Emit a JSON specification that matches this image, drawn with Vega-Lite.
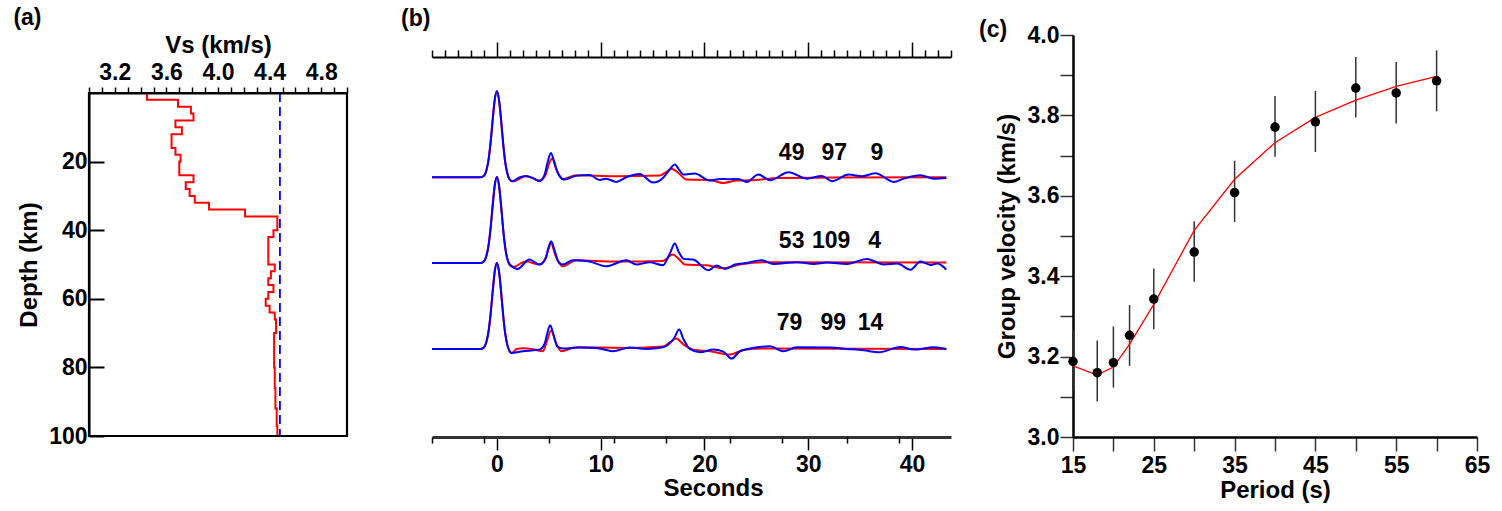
{
  "$schema": "https://vega.github.io/schema/vega-lite/v6.json",
  "background": "white",
  "padding": {"left": 13, "top": 6, "right": 10, "bottom": 10},
  "bounds": "flush",
  "spacing": 85,
  "datasets": {
    "profile": [
      {"depth": 0, "vs": 3.45}, {"depth": 2, "vs": 3.69}, {"depth": 4, "vs": 3.79}, {"depth": 6, "vs": 3.81},
      {"depth": 8, "vs": 3.67}, {"depth": 10, "vs": 3.72}, {"depth": 12, "vs": 3.64}, {"depth": 16, "vs": 3.67},
      {"depth": 18, "vs": 3.71}, {"depth": 20, "vs": 3.70}, {"depth": 24, "vs": 3.81}, {"depth": 26, "vs": 3.75},
      {"depth": 28, "vs": 3.78}, {"depth": 30, "vs": 3.82}, {"depth": 32, "vs": 3.93}, {"depth": 34, "vs": 4.21},
      {"depth": 36, "vs": 4.46}, {"depth": 40, "vs": 4.43}, {"depth": 42, "vs": 4.39}, {"depth": 50, "vs": 4.44},
      {"depth": 52, "vs": 4.41}, {"depth": 54, "vs": 4.39}, {"depth": 56, "vs": 4.43}, {"depth": 58, "vs": 4.39},
      {"depth": 60, "vs": 4.37}, {"depth": 62, "vs": 4.40}, {"depth": 64, "vs": 4.44}, {"depth": 66, "vs": 4.45},
      {"depth": 70, "vs": 4.435}, {"depth": 80, "vs": 4.44}, {"depth": 86, "vs": 4.445}, {"depth": 92, "vs": 4.455},
      {"depth": 97, "vs": 4.46}, {"depth": 100, "vs": 4.46}
    ],
    "reference": [{"vs": 4.48, "top": 0, "bottom": 100}],
    "wave": [
      {"trace": 1, "kind": "model", "t": -6.25, "amp": 0}, {"trace": 1, "kind": "model", "t": -1.6, "amp": 0},
      {"trace": 1, "kind": "model", "t": -1.3, "amp": 0.012}, {"trace": 1, "kind": "model", "t": -1.0, "amp": 0.085},
      {"trace": 1, "kind": "model", "t": -0.8, "amp": 0.206}, {"trace": 1, "kind": "model", "t": -0.6, "amp": 0.411},
      {"trace": 1, "kind": "model", "t": -0.4, "amp": 0.674}, {"trace": 1, "kind": "model", "t": -0.2, "amp": 0.906},
      {"trace": 1, "kind": "model", "t": 0, "amp": 1}, {"trace": 1, "kind": "model", "t": 0.2, "amp": 0.906},
      {"trace": 1, "kind": "model", "t": 0.4, "amp": 0.674}, {"trace": 1, "kind": "model", "t": 0.6, "amp": 0.4},
      {"trace": 1, "kind": "model", "t": 0.8, "amp": 0.18}, {"trace": 1, "kind": "model", "t": 1.0, "amp": 0.05},
      {"trace": 1, "kind": "model", "t": 1.2, "amp": -0.02}, {"trace": 1, "kind": "model", "t": 1.52, "amp": -0.047},
      {"trace": 1, "kind": "model", "t": 2.81, "amp": 0.012}, {"trace": 1, "kind": "model", "t": 4.1, "amp": -0.039},
      {"trace": 1, "kind": "model", "t": 4.7, "amp": 0.03}, {"trace": 1, "kind": "model", "t": 5.0, "amp": 0.15},
      {"trace": 1, "kind": "model", "t": 5.33, "amp": 0.217}, {"trace": 1, "kind": "model", "t": 5.7, "amp": 0.1},
      {"trace": 1, "kind": "model", "t": 6.35, "amp": -0.023}, {"trace": 1, "kind": "model", "t": 7.64, "amp": 0.023},
      {"trace": 1, "kind": "model", "t": 11.5, "amp": 0.012}, {"trace": 1, "kind": "model", "t": 15.69, "amp": 0.019},
      {"trace": 1, "kind": "model", "t": 16.3, "amp": 0.06}, {"trace": 1, "kind": "model", "t": 16.82, "amp": 0.1},
      {"trace": 1, "kind": "model", "t": 17.5, "amp": 0.05}, {"trace": 1, "kind": "model", "t": 18.27, "amp": -0.027},
      {"trace": 1, "kind": "model", "t": 20.52, "amp": -0.031}, {"trace": 1, "kind": "model", "t": 21.81, "amp": -0.066},
      {"trace": 1, "kind": "model", "t": 23.1, "amp": -0.039}, {"trace": 1, "kind": "model", "t": 24.39, "amp": -0.035},
      {"trace": 1, "kind": "model", "t": 27.29, "amp": -0.008}, {"trace": 1, "kind": "model", "t": 32.12, "amp": -0.004},
      {"trace": 1, "kind": "model", "t": 43.3, "amp": 0},

      {"trace": 2, "kind": "model", "t": -6.25, "amp": 0}, {"trace": 2, "kind": "model", "t": -1.6, "amp": 0},
      {"trace": 2, "kind": "model", "t": -1.3, "amp": 0.012}, {"trace": 2, "kind": "model", "t": -1.0, "amp": 0.085},
      {"trace": 2, "kind": "model", "t": -0.8, "amp": 0.206}, {"trace": 2, "kind": "model", "t": -0.6, "amp": 0.411},
      {"trace": 2, "kind": "model", "t": -0.4, "amp": 0.674}, {"trace": 2, "kind": "model", "t": -0.2, "amp": 0.906},
      {"trace": 2, "kind": "model", "t": 0, "amp": 1}, {"trace": 2, "kind": "model", "t": 0.2, "amp": 0.906},
      {"trace": 2, "kind": "model", "t": 0.4, "amp": 0.674}, {"trace": 2, "kind": "model", "t": 0.6, "amp": 0.4},
      {"trace": 2, "kind": "model", "t": 0.8, "amp": 0.18}, {"trace": 2, "kind": "model", "t": 1.0, "amp": 0.05},
      {"trace": 2, "kind": "model", "t": 1.2, "amp": -0.02}, {"trace": 2, "kind": "model", "t": 1.52, "amp": -0.047},
      {"trace": 2, "kind": "model", "t": 2.81, "amp": 0.016}, {"trace": 2, "kind": "model", "t": 4.1, "amp": -0.019},
      {"trace": 2, "kind": "model", "t": 4.7, "amp": 0.06}, {"trace": 2, "kind": "model", "t": 5.0, "amp": 0.17},
      {"trace": 2, "kind": "model", "t": 5.23, "amp": 0.233}, {"trace": 2, "kind": "model", "t": 5.6, "amp": 0.1},
      {"trace": 2, "kind": "model", "t": 6.35, "amp": -0.039}, {"trace": 2, "kind": "model", "t": 7.64, "amp": 0.031},
      {"trace": 2, "kind": "model", "t": 11.5, "amp": 0.016}, {"trace": 2, "kind": "model", "t": 16.0, "amp": 0.023},
      {"trace": 2, "kind": "model", "t": 16.92, "amp": 0.097}, {"trace": 2, "kind": "model", "t": 17.5, "amp": 0.05},
      {"trace": 2, "kind": "model", "t": 18.11, "amp": -0.019}, {"trace": 2, "kind": "model", "t": 20.2, "amp": -0.027},
      {"trace": 2, "kind": "model", "t": 21.81, "amp": -0.062}, {"trace": 2, "kind": "model", "t": 23.42, "amp": -0.019},
      {"trace": 2, "kind": "model", "t": 25.68, "amp": 0.008}, {"trace": 2, "kind": "model", "t": 43.3, "amp": 0.004},

      {"trace": 3, "kind": "model", "t": -6.25, "amp": 0}, {"trace": 3, "kind": "model", "t": -1.6, "amp": 0},
      {"trace": 3, "kind": "model", "t": -1.3, "amp": 0.012}, {"trace": 3, "kind": "model", "t": -1.0, "amp": 0.085},
      {"trace": 3, "kind": "model", "t": -0.8, "amp": 0.206}, {"trace": 3, "kind": "model", "t": -0.6, "amp": 0.411},
      {"trace": 3, "kind": "model", "t": -0.4, "amp": 0.674}, {"trace": 3, "kind": "model", "t": -0.2, "amp": 0.906},
      {"trace": 3, "kind": "model", "t": 0, "amp": 1}, {"trace": 3, "kind": "model", "t": 0.2, "amp": 0.906},
      {"trace": 3, "kind": "model", "t": 0.4, "amp": 0.674}, {"trace": 3, "kind": "model", "t": 0.6, "amp": 0.4},
      {"trace": 3, "kind": "model", "t": 0.8, "amp": 0.18}, {"trace": 3, "kind": "model", "t": 1.0, "amp": 0.05},
      {"trace": 3, "kind": "model", "t": 1.2, "amp": -0.02}, {"trace": 3, "kind": "model", "t": 1.45, "amp": -0.045},
      {"trace": 3, "kind": "model", "t": 1.9, "amp": 0}, {"trace": 3, "kind": "model", "t": 2.49, "amp": 0.008},
      {"trace": 3, "kind": "model", "t": 3.5, "amp": -0.004}, {"trace": 3, "kind": "model", "t": 4.42, "amp": -0.027},
      {"trace": 3, "kind": "model", "t": 4.8, "amp": 0.08}, {"trace": 3, "kind": "model", "t": 5.23, "amp": 0.213},
      {"trace": 3, "kind": "model", "t": 5.6, "amp": 0.1}, {"trace": 3, "kind": "model", "t": 6.19, "amp": -0.027},
      {"trace": 3, "kind": "model", "t": 7.64, "amp": 0.019}, {"trace": 3, "kind": "model", "t": 12.8, "amp": 0.012},
      {"trace": 3, "kind": "model", "t": 16.0, "amp": 0.027}, {"trace": 3, "kind": "model", "t": 16.7, "amp": 0.08},
      {"trace": 3, "kind": "model", "t": 17.3, "amp": 0.12}, {"trace": 3, "kind": "model", "t": 17.9, "amp": 0.06},
      {"trace": 3, "kind": "model", "t": 18.91, "amp": -0.008}, {"trace": 3, "kind": "model", "t": 20.52, "amp": -0.027},
      {"trace": 3, "kind": "model", "t": 22.46, "amp": -0.066}, {"trace": 3, "kind": "model", "t": 23.75, "amp": -0.012},
      {"trace": 3, "kind": "model", "t": 25.68, "amp": 0.004}, {"trace": 3, "kind": "model", "t": 43.3, "amp": 0},

      {"trace": 1, "kind": "observed", "t": -6.25, "amp": 0}, {"trace": 1, "kind": "observed", "t": -1.6, "amp": 0},
      {"trace": 1, "kind": "observed", "t": -1.3, "amp": 0.012}, {"trace": 1, "kind": "observed", "t": -1.0, "amp": 0.085},
      {"trace": 1, "kind": "observed", "t": -0.8, "amp": 0.206}, {"trace": 1, "kind": "observed", "t": -0.6, "amp": 0.411},
      {"trace": 1, "kind": "observed", "t": -0.4, "amp": 0.674}, {"trace": 1, "kind": "observed", "t": -0.2, "amp": 0.906},
      {"trace": 1, "kind": "observed", "t": 0, "amp": 1}, {"trace": 1, "kind": "observed", "t": 0.2, "amp": 0.906},
      {"trace": 1, "kind": "observed", "t": 0.4, "amp": 0.674}, {"trace": 1, "kind": "observed", "t": 0.6, "amp": 0.4},
      {"trace": 1, "kind": "observed", "t": 0.8, "amp": 0.18}, {"trace": 1, "kind": "observed", "t": 1.0, "amp": 0.05},
      {"trace": 1, "kind": "observed", "t": 1.2, "amp": -0.02}, {"trace": 1, "kind": "observed", "t": 1.52, "amp": -0.047},
      {"trace": 1, "kind": "observed", "t": 2.1, "amp": -0.005}, {"trace": 1, "kind": "observed", "t": 2.81, "amp": 0.016},
      {"trace": 1, "kind": "observed", "t": 3.5, "amp": -0.01}, {"trace": 1, "kind": "observed", "t": 4.1, "amp": -0.047},
      {"trace": 1, "kind": "observed", "t": 4.6, "amp": 0.03}, {"trace": 1, "kind": "observed", "t": 4.9, "amp": 0.18},
      {"trace": 1, "kind": "observed", "t": 5.2, "amp": 0.283}, {"trace": 1, "kind": "observed", "t": 5.5, "amp": 0.19},
      {"trace": 1, "kind": "observed", "t": 5.87, "amp": 0.05}, {"trace": 1, "kind": "observed", "t": 6.51, "amp": -0.027},
      {"trace": 1, "kind": "observed", "t": 7.64, "amp": 0.016}, {"trace": 1, "kind": "observed", "t": 8.93, "amp": 0.027},
      {"trace": 1, "kind": "observed", "t": 9.9, "amp": -0.031}, {"trace": 1, "kind": "observed", "t": 10.54, "amp": -0.016},
      {"trace": 1, "kind": "observed", "t": 11.5, "amp": -0.054}, {"trace": 1, "kind": "observed", "t": 12.47, "amp": 0},
      {"trace": 1, "kind": "observed", "t": 13.76, "amp": 0.039}, {"trace": 1, "kind": "observed", "t": 15.05, "amp": -0.062},
      {"trace": 1, "kind": "observed", "t": 16.0, "amp": -0.008}, {"trace": 1, "kind": "observed", "t": 16.6, "amp": 0.08},
      {"trace": 1, "kind": "observed", "t": 17.14, "amp": 0.147}, {"trace": 1, "kind": "observed", "t": 17.6, "amp": 0.08},
      {"trace": 1, "kind": "observed", "t": 17.95, "amp": 0.031}, {"trace": 1, "kind": "observed", "t": 19.07, "amp": 0.043},
      {"trace": 1, "kind": "observed", "t": 20.52, "amp": -0.039}, {"trace": 1, "kind": "observed", "t": 21.49, "amp": -0.019},
      {"trace": 1, "kind": "observed", "t": 22.46, "amp": -0.023}, {"trace": 1, "kind": "observed", "t": 23.26, "amp": -0.02},
      {"trace": 1, "kind": "observed", "t": 24.07, "amp": -0.054}, {"trace": 1, "kind": "observed", "t": 25.19, "amp": 0.031},
      {"trace": 1, "kind": "observed", "t": 26.32, "amp": -0.035}, {"trace": 1, "kind": "observed", "t": 28.09, "amp": 0.058},
      {"trace": 1, "kind": "observed", "t": 29.86, "amp": -0.016}, {"trace": 1, "kind": "observed", "t": 31.31, "amp": 0.016},
      {"trace": 1, "kind": "observed", "t": 32.28, "amp": -0.047}, {"trace": 1, "kind": "observed", "t": 33.89, "amp": 0.031},
      {"trace": 1, "kind": "observed", "t": 35.18, "amp": 0.012}, {"trace": 1, "kind": "observed", "t": 36.47, "amp": 0.047},
      {"trace": 1, "kind": "observed", "t": 38.24, "amp": -0.054}, {"trace": 1, "kind": "observed", "t": 39.2, "amp": -0.016},
      {"trace": 1, "kind": "observed", "t": 40.81, "amp": 0.023}, {"trace": 1, "kind": "observed", "t": 42.1, "amp": -0.016},
      {"trace": 1, "kind": "observed", "t": 43.3, "amp": -0.008},

      {"trace": 2, "kind": "observed", "t": -6.25, "amp": 0}, {"trace": 2, "kind": "observed", "t": -1.6, "amp": 0},
      {"trace": 2, "kind": "observed", "t": -1.3, "amp": 0.012}, {"trace": 2, "kind": "observed", "t": -1.0, "amp": 0.085},
      {"trace": 2, "kind": "observed", "t": -0.8, "amp": 0.206}, {"trace": 2, "kind": "observed", "t": -0.6, "amp": 0.411},
      {"trace": 2, "kind": "observed", "t": -0.4, "amp": 0.674}, {"trace": 2, "kind": "observed", "t": -0.2, "amp": 0.906},
      {"trace": 2, "kind": "observed", "t": 0, "amp": 1}, {"trace": 2, "kind": "observed", "t": 0.2, "amp": 0.906},
      {"trace": 2, "kind": "observed", "t": 0.4, "amp": 0.674}, {"trace": 2, "kind": "observed", "t": 0.6, "amp": 0.4},
      {"trace": 2, "kind": "observed", "t": 0.8, "amp": 0.18}, {"trace": 2, "kind": "observed", "t": 1.0, "amp": 0.05},
      {"trace": 2, "kind": "observed", "t": 1.2, "amp": -0.01}, {"trace": 2, "kind": "observed", "t": 1.36, "amp": -0.03},
      {"trace": 2, "kind": "observed", "t": 2.0, "amp": -0.07}, {"trace": 2, "kind": "observed", "t": 3.13, "amp": 0.039},
      {"trace": 2, "kind": "observed", "t": 4.1, "amp": -0.019}, {"trace": 2, "kind": "observed", "t": 4.7, "amp": 0.05},
      {"trace": 2, "kind": "observed", "t": 4.95, "amp": 0.17}, {"trace": 2, "kind": "observed", "t": 5.23, "amp": 0.252},
      {"trace": 2, "kind": "observed", "t": 5.55, "amp": 0.15}, {"trace": 2, "kind": "observed", "t": 5.9, "amp": 0.02},
      {"trace": 2, "kind": "observed", "t": 6.35, "amp": -0.019}, {"trace": 2, "kind": "observed", "t": 7.32, "amp": 0.031},
      {"trace": 2, "kind": "observed", "t": 8.93, "amp": 0.016}, {"trace": 2, "kind": "observed", "t": 10.54, "amp": -0.039},
      {"trace": 2, "kind": "observed", "t": 12.47, "amp": 0.031}, {"trace": 2, "kind": "observed", "t": 13.44, "amp": -0.019},
      {"trace": 2, "kind": "observed", "t": 14.73, "amp": 0.008}, {"trace": 2, "kind": "observed", "t": 16.0, "amp": -0.027},
      {"trace": 2, "kind": "observed", "t": 16.7, "amp": 0.12}, {"trace": 2, "kind": "observed", "t": 17.14, "amp": 0.225},
      {"trace": 2, "kind": "observed", "t": 17.55, "amp": 0.12}, {"trace": 2, "kind": "observed", "t": 18.01, "amp": 0.047},
      {"trace": 2, "kind": "observed", "t": 18.91, "amp": 0.039}, {"trace": 2, "kind": "observed", "t": 20.36, "amp": -0.085},
      {"trace": 2, "kind": "observed", "t": 21.17, "amp": -0.031}, {"trace": 2, "kind": "observed", "t": 21.97, "amp": -0.07},
      {"trace": 2, "kind": "observed", "t": 22.94, "amp": -0.019}, {"trace": 2, "kind": "observed", "t": 24.07, "amp": 0},
      {"trace": 2, "kind": "observed", "t": 25.52, "amp": 0.031}, {"trace": 2, "kind": "observed", "t": 26.64, "amp": -0.012},
      {"trace": 2, "kind": "observed", "t": 28.9, "amp": 0.008}, {"trace": 2, "kind": "observed", "t": 30.51, "amp": -0.012},
      {"trace": 2, "kind": "observed", "t": 31.8, "amp": 0.004}, {"trace": 2, "kind": "observed", "t": 33.73, "amp": -0.012},
      {"trace": 2, "kind": "observed", "t": 35.66, "amp": 0.047}, {"trace": 2, "kind": "observed", "t": 37.27, "amp": -0.019},
      {"trace": 2, "kind": "observed", "t": 38.56, "amp": -0.008}, {"trace": 2, "kind": "observed", "t": 39.85, "amp": -0.078},
      {"trace": 2, "kind": "observed", "t": 40.81, "amp": 0.016}, {"trace": 2, "kind": "observed", "t": 41.78, "amp": -0.023},
      {"trace": 2, "kind": "observed", "t": 42.42, "amp": -0.008}, {"trace": 2, "kind": "observed", "t": 43.3, "amp": -0.078},

      {"trace": 3, "kind": "observed", "t": -6.25, "amp": 0}, {"trace": 3, "kind": "observed", "t": -1.6, "amp": 0},
      {"trace": 3, "kind": "observed", "t": -1.3, "amp": 0.012}, {"trace": 3, "kind": "observed", "t": -1.0, "amp": 0.085},
      {"trace": 3, "kind": "observed", "t": -0.8, "amp": 0.206}, {"trace": 3, "kind": "observed", "t": -0.6, "amp": 0.411},
      {"trace": 3, "kind": "observed", "t": -0.4, "amp": 0.674}, {"trace": 3, "kind": "observed", "t": -0.2, "amp": 0.906},
      {"trace": 3, "kind": "observed", "t": 0, "amp": 1}, {"trace": 3, "kind": "observed", "t": 0.2, "amp": 0.906},
      {"trace": 3, "kind": "observed", "t": 0.4, "amp": 0.674}, {"trace": 3, "kind": "observed", "t": 0.6, "amp": 0.4},
      {"trace": 3, "kind": "observed", "t": 0.8, "amp": 0.18}, {"trace": 3, "kind": "observed", "t": 1.0, "amp": 0.05},
      {"trace": 3, "kind": "observed", "t": 1.2, "amp": -0.02}, {"trace": 3, "kind": "observed", "t": 1.36, "amp": -0.047},
      {"trace": 3, "kind": "observed", "t": 2.49, "amp": -0.027}, {"trace": 3, "kind": "observed", "t": 4.1, "amp": -0.008},
      {"trace": 3, "kind": "observed", "t": 4.6, "amp": 0.06}, {"trace": 3, "kind": "observed", "t": 4.85, "amp": 0.18},
      {"trace": 3, "kind": "observed", "t": 5.13, "amp": 0.275}, {"trace": 3, "kind": "observed", "t": 5.45, "amp": 0.17},
      {"trace": 3, "kind": "observed", "t": 5.8, "amp": 0.03}, {"trace": 3, "kind": "observed", "t": 6.35, "amp": 0.004},
      {"trace": 3, "kind": "observed", "t": 7.96, "amp": 0.016}, {"trace": 3, "kind": "observed", "t": 9.57, "amp": 0.012},
      {"trace": 3, "kind": "observed", "t": 11.18, "amp": -0.027}, {"trace": 3, "kind": "observed", "t": 12.8, "amp": 0.016},
      {"trace": 3, "kind": "observed", "t": 14.4, "amp": 0}, {"trace": 3, "kind": "observed", "t": 16.0, "amp": 0.019},
      {"trace": 3, "kind": "observed", "t": 17.1, "amp": 0.13}, {"trace": 3, "kind": "observed", "t": 17.56, "amp": 0.225},
      {"trace": 3, "kind": "observed", "t": 17.95, "amp": 0.12}, {"trace": 3, "kind": "observed", "t": 18.59, "amp": 0},
      {"trace": 3, "kind": "observed", "t": 19.56, "amp": -0.039}, {"trace": 3, "kind": "observed", "t": 20.85, "amp": -0.008},
      {"trace": 3, "kind": "observed", "t": 21.81, "amp": -0.031}, {"trace": 3, "kind": "observed", "t": 22.62, "amp": -0.112},
      {"trace": 3, "kind": "observed", "t": 23.42, "amp": -0.027}, {"trace": 3, "kind": "observed", "t": 24.39, "amp": 0.004},
      {"trace": 3, "kind": "observed", "t": 26.32, "amp": 0.031}, {"trace": 3, "kind": "observed", "t": 27.61, "amp": -0.027},
      {"trace": 3, "kind": "observed", "t": 28.9, "amp": 0.019}, {"trace": 3, "kind": "observed", "t": 32.12, "amp": 0.016},
      {"trace": 3, "kind": "observed", "t": 33.73, "amp": 0}, {"trace": 3, "kind": "observed", "t": 35.34, "amp": -0.016},
      {"trace": 3, "kind": "observed", "t": 36.79, "amp": -0.039}, {"trace": 3, "kind": "observed", "t": 38.88, "amp": 0.023},
      {"trace": 3, "kind": "observed", "t": 40.17, "amp": -0.008}, {"trace": 3, "kind": "observed", "t": 42.1, "amp": 0.019},
      {"trace": 3, "kind": "observed", "t": 43.3, "amp": 0}
    ],
    "fits": [
      {"trace": 1, "t": 28.4, "label": "49"}, {"trace": 1, "t": 32.5, "label": "97"}, {"trace": 1, "t": 36.6, "label": "9"},
      {"trace": 2, "t": 28.4, "label": "53"}, {"trace": 2, "t": 32.2, "label": "109"}, {"trace": 2, "t": 36.4, "label": "4"},
      {"trace": 3, "t": 28.2, "label": "79"}, {"trace": 3, "t": 32.4, "label": "99"}, {"trace": 3, "t": 36.0, "label": "14"}
    ],
    "dispersion": [
      {"period": 15, "vel": 3.188, "lo": 3.115, "hi": 3.265},
      {"period": 18, "vel": 3.160, "lo": 3.088, "hi": 3.240},
      {"period": 20, "vel": 3.185, "lo": 3.123, "hi": 3.275},
      {"period": 22, "vel": 3.253, "lo": 3.177, "hi": 3.328},
      {"period": 25, "vel": 3.343, "lo": 3.268, "hi": 3.419},
      {"period": 30, "vel": 3.460, "lo": 3.386, "hi": 3.537},
      {"period": 35, "vel": 3.608, "lo": 3.535, "hi": 3.687},
      {"period": 40, "vel": 3.771, "lo": 3.697, "hi": 3.848},
      {"period": 45, "vel": 3.784, "lo": 3.709, "hi": 3.861},
      {"period": 50, "vel": 3.868, "lo": 3.795, "hi": 3.945},
      {"period": 55, "vel": 3.856, "lo": 3.780, "hi": 3.933},
      {"period": 60, "vel": 3.886, "lo": 3.810, "hi": 3.962}
    ],
    "prediction": [
      {"period": 15, "vel": 3.177}, {"period": 18, "vel": 3.154}, {"period": 20, "vel": 3.174},
      {"period": 22, "vel": 3.231}, {"period": 25, "vel": 3.330}, {"period": 30, "vel": 3.514},
      {"period": 35, "vel": 3.641}, {"period": 40, "vel": 3.732}, {"period": 45, "vel": 3.795},
      {"period": 50, "vel": 3.838}, {"period": 55, "vel": 3.872}, {"period": 60, "vel": 3.897}
    ]
  },
  "hconcat": [
    {
      "width": 258,
      "height": 402,
      "layer": [
        {
          "data": {"name": "profile"},
          "mark": {"type": "line", "interpolate": "step-before", "color": "#ff0000", "strokeWidth": 2},
          "encoding": {
            "x": {
              "field": "vs", "type": "quantitative",
              "scale": {"domain": [3.0, 5.0], "nice": false, "zero": false},
              "axis": {
                "orient": "top", "offset": -58,
                "values": [3.2, 3.6, 4.0, 4.4, 4.8],
                "format": ".1f",
                "tickSize": 6, "tickWidth": 1.5, "domainWidth": 2,
                "labelFontSize": 23, "labelPadding": 3, "labelFlush": false,
                "title": "Vs (km/s)", "titleFontSize": 24, "titlePadding": 4
              }
            },
            "y": {
              "field": "depth", "type": "quantitative",
              "scale": {"domain": [0, 100], "range": [58, 401], "nice": false, "zero": false},
              "axis": {
                "orient": "left", "values": [20, 40, 60, 80, 100],
                "tickSize": -15, "tickWidth": 2, "domainWidth": 2,
                "labelFontSize": 23, "labelPadding": 17,
                "title": "Depth (km)", "titleFontSize": 24, "titlePadding": 7
              }
            },
            "order": {"field": "depth", "type": "quantitative"}
          }
        },
        {
          "data": {"name": "reference"},
          "mark": {"type": "rule", "color": "#0000ff", "strokeWidth": 1.8, "strokeDash": [9, 5]},
          "encoding": {
            "x": {
              "field": "vs", "type": "quantitative",
              "scale": {"domain": [3.0, 5.0], "nice": false, "zero": false},
              "axis": {
                "orient": "top", "offset": -58,
                "values": [3.0, 3.1, 3.3, 3.4, 3.5, 3.7, 3.8, 3.9, 4.1, 4.2, 4.3, 4.5, 4.6, 4.7, 4.9, 5.0],
                "labels": false, "domain": false, "tickSize": 6, "tickWidth": 1.5, "title": null
              }
            },
            "y": {"field": "top", "type": "quantitative", "scale": {"domain": [0, 100], "range": [58, 401], "nice": false, "zero": false}},
            "y2": {"field": "bottom"}
          }
        },
        {
          "data": {"values": [{}]},
          "mark": {"type": "rect", "fillOpacity": 0, "stroke": "#000000", "strokeWidth": 2.2},
          "encoding": {
            "x": {"datum": 3.0, "type": "quantitative", "scale": {"domain": [3.0, 5.0], "nice": false, "zero": false}, "axis": null},
            "x2": {"datum": 5.0},
            "y": {"datum": 0, "type": "quantitative", "scale": {"domain": [0, 100], "range": [58, 401], "nice": false, "zero": false}},
            "y2": {"datum": 100}
          }
        },
        {
          "data": {"values": [{"panel": "(a)"}]},
          "mark": {"type": "text", "font": "Liberation Sans", "fontWeight": "bold", "fontSize": 23, "align": "center", "baseline": "middle", "color": "#000"},
          "encoding": {
            "x": {"datum": 2.523, "type": "quantitative", "scale": {"domain": [3.0, 5.0], "nice": false, "zero": false}, "axis": null},
            "y": {"datum": -22, "type": "quantitative", "scale": {"domain": [0, 100], "range": [58, 401], "nice": false, "zero": false}},
            "text": {"field": "panel"}
          }
        }
      ],
      "resolve": {"axis": {"x": "independent"}}
    },
    {
      "width": 556,
      "height": 402,
      "layer": [
        {
          "layer": [
            {
              "data": {"name": "wave"},
              "transform": [{"filter": "datum.trace == 1"}],
              "mark": {"type": "line", "interpolate": "monotone", "strokeWidth": 2},
              "encoding": {
                "x": {
                  "field": "t", "type": "quantitative",
                  "scale": {"domain": [-6.25, 43.75], "range": [0, 519], "nice": false, "zero": false},
                  "axis": {
                    "orient": "bottom",
                    "values": [0, 10, 20, 30, 40],
                    "format": "d",
                    "tickSize": 13, "tickWidth": 1.5, "domainWidth": 3, "domainColor": "#333333",
                    "labelFontSize": 23, "labelPadding": 3, "labelFlush": false,
                    "title": "Seconds", "titleFontSize": 24, "titlePadding": 0, "titleX": 281
                  }
                },
                "y": {"field": "amp", "type": "quantitative", "scale": {"domain": [-3.02, 1.654], "nice": false, "zero": false}, "axis": null},
                "color": {"field": "kind", "type": "nominal", "scale": {"domain": ["model", "observed"], "range": ["#ff0000", "#0000ff"]}, "legend": null}
              }
            },
            {
              "data": {"name": "fits"},
              "transform": [{"filter": "datum.trace == 1"}],
              "mark": {"type": "text", "font": "Liberation Sans", "fontWeight": "bold", "fontSize": 23, "align": "center", "baseline": "middle", "color": "#000"},
              "encoding": {
                "x": {"field": "t", "type": "quantitative", "scale": {"domain": [-6.25, 43.75], "range": [0, 519], "nice": false, "zero": false}},
                "y": {"datum": 0.28, "type": "quantitative", "scale": {"domain": [-3.02, 1.654], "nice": false, "zero": false}, "axis": null},
                "text": {"field": "label"}
              }
            }
          ]
        },
        {
          "layer": [
            {
              "data": {"name": "wave"},
              "transform": [{"filter": "datum.trace == 2"}],
              "mark": {"type": "line", "interpolate": "monotone", "strokeWidth": 2},
              "encoding": {
                "x": {
                  "field": "t", "type": "quantitative",
                  "scale": {"domain": [-6.25, 43.75], "range": [0, 519], "nice": false, "zero": false},
                  "axis": {
                    "orient": "top", "offset": -22,
                    "values": [0, 10, 20, 30, 40],
                    "labels": false, "tickSize": 15, "tickWidth": 1.5, "domainWidth": 2, "title": null
                  }
                },
                "y": {"field": "amp", "type": "quantitative", "scale": {"domain": [-2.024, 2.65], "nice": false, "zero": false}, "axis": null},
                "color": {"field": "kind", "type": "nominal", "scale": {"domain": ["model", "observed"], "range": ["#ff0000", "#0000ff"]}, "legend": null}
              }
            },
            {
              "data": {"name": "fits"},
              "transform": [{"filter": "datum.trace == 2"}],
              "mark": {"type": "text", "font": "Liberation Sans", "fontWeight": "bold", "fontSize": 23, "align": "center", "baseline": "middle", "color": "#000"},
              "encoding": {
                "x": {"field": "t", "type": "quantitative", "scale": {"domain": [-6.25, 43.75], "range": [0, 519], "nice": false, "zero": false}},
                "y": {"datum": 0.25, "type": "quantitative", "scale": {"domain": [-2.024, 2.65], "nice": false, "zero": false}, "axis": null},
                "text": {"field": "label"}
              }
            }
          ]
        },
        {
          "layer": [
            {
              "data": {"name": "wave"},
              "transform": [{"filter": "datum.trace == 3"}],
              "mark": {"type": "line", "interpolate": "monotone", "strokeWidth": 2},
              "encoding": {
                "x": {
                  "field": "t", "type": "quantitative",
                  "scale": {"domain": [-6.25, 43.75], "range": [0, 519], "nice": false, "zero": false},
                  "axis": {
                    "orient": "bottom",
                    "values": [-6.25, -5, -3.75, -2.5, -1.25, 1.25, 2.5, 3.75, 5, 6.25, 7.5, 8.75, 11.25, 12.5, 13.75, 15, 16.25, 17.5, 18.75, 21.25, 22.5, 23.75, 25, 26.25, 27.5, 28.75, 31.25, 32.5, 33.75, 35, 36.25, 37.5, 38.75, 41.25, 42.5, 43.75],
                    "labels": false, "domain": false, "tickSize": 6, "tickWidth": 1.5, "title": null
                  }
                },
                "y": {"field": "amp", "type": "quantitative", "scale": {"domain": [-1.024, 3.65], "nice": false, "zero": false}, "axis": null},
                "color": {"field": "kind", "type": "nominal", "scale": {"domain": ["model", "observed"], "range": ["#ff0000", "#0000ff"]}, "legend": null}
              }
            },
            {
              "data": {"name": "fits"},
              "transform": [{"filter": "datum.trace == 3"}],
              "mark": {"type": "text", "font": "Liberation Sans", "fontWeight": "bold", "fontSize": 23, "align": "center", "baseline": "middle", "color": "#000"},
              "encoding": {
                "x": {"field": "t", "type": "quantitative", "scale": {"domain": [-6.25, 43.75], "range": [0, 519], "nice": false, "zero": false}},
                "y": {"datum": 0.3, "type": "quantitative", "scale": {"domain": [-1.024, 3.65], "nice": false, "zero": false}, "axis": null},
                "text": {"field": "label"}
              }
            }
          ]
        },
        {
          "data": {"values": [{"panel": "(b)"}]},
          "mark": {"type": "text", "font": "Liberation Sans", "fontWeight": "bold", "fontSize": 23, "align": "center", "baseline": "middle", "color": "#000"},
          "encoding": {
            "x": {
              "datum": -7.82, "type": "quantitative",
              "scale": {"domain": [-6.25, 43.75], "range": [0, 519], "nice": false, "zero": false},
              "axis": {
                "orient": "top", "offset": -22,
                "values": [-6.25, -5, -3.75, -2.5, -1.25, 1.25, 2.5, 3.75, 5, 6.25, 7.5, 8.75, 11.25, 12.5, 13.75, 15, 16.25, 17.5, 18.75, 21.25, 22.5, 23.75, 25, 26.25, 27.5, 28.75, 31.25, 32.5, 33.75, 35, 36.25, 37.5, 38.75, 41.25, 42.5, 43.75],
                "labels": false, "domain": false, "tickSize": 7, "tickWidth": 1.5, "title": null
              }
            },
            "y": {"datum": 1.845, "type": "quantitative", "scale": {"domain": [-3.02, 1.654], "nice": false, "zero": false}, "axis": null},
            "text": {"field": "panel"}
          }
        }
      ],
      "resolve": {"scale": {"y": "independent"}, "axis": {"x": "independent"}}
    },
    {
      "width": 404,
      "height": 402,
      "layer": [
        {
          "data": {"name": "dispersion"},
          "mark": {"type": "rule", "color": "#333333", "strokeWidth": 1.5},
          "encoding": {
            "x": {"field": "period", "type": "quantitative", "scale": {"domain": [15, 65], "nice": false, "zero": false}},
            "y": {"field": "lo", "type": "quantitative", "scale": {"domain": [3.0, 4.0], "nice": false, "zero": false}},
            "y2": {"field": "hi"}
          }
        },
        {
          "data": {"name": "prediction"},
          "mark": {"type": "line", "color": "#ff0000", "strokeWidth": 1.3},
          "encoding": {
            "x": {"field": "period", "type": "quantitative", "scale": {"domain": [15, 65], "nice": false, "zero": false}},
            "y": {"field": "vel", "type": "quantitative", "scale": {"domain": [3.0, 4.0], "nice": false, "zero": false}}
          }
        },
        {
          "data": {"name": "dispersion"},
          "mark": {"type": "circle", "color": "#000000", "opacity": 1, "size": 90},
          "encoding": {
            "x": {
              "field": "period", "type": "quantitative",
              "scale": {"domain": [15, 65], "nice": false, "zero": false},
              "axis": {
                "values": [15, 20, 25, 30, 35, 40, 45, 50, 55, 60, 65],
                "labelExpr": "datum.value % 10 == 5 ? format(datum.value, 'd') : ''",
                "tickSize": 14, "tickWidth": 1.5, "tickColor": "#333333", "domainWidth": 2.5,
                "labelFontSize": 23, "labelPadding": 3, "labelFlush": false, "labelOverlap": false,
                "title": "Period (s)", "titleFontSize": 24, "titlePadding": 1
              }
            },
            "y": {
              "field": "vel", "type": "quantitative",
              "scale": {"domain": [3.0, 4.0], "nice": false, "zero": false},
              "axis": {
                "values": [3.0, 3.1, 3.2, 3.3, 3.4, 3.5, 3.6, 3.7, 3.8, 3.9, 4.0],
                "labelExpr": "indexof(['3.0','3.2','3.4','3.6','3.8','4.0'], format(datum.value, '.1f')) >= 0 ? format(datum.value, '.1f') : ''",
                "tickSize": 13, "tickWidth": 1.5, "tickColor": "#333333", "domainWidth": 2.5,
                "labelFontSize": 23, "labelPadding": 1, "labelFlush": false, "labelOverlap": false,
                "title": "Group velocity (km/s)", "titleFontSize": 24, "titlePadding": 8
              }
            }
          }
        },
        {
          "data": {"values": [{"panel": "(c)"}]},
          "mark": {"type": "text", "font": "Liberation Sans", "fontWeight": "bold", "fontSize": 23, "align": "center", "baseline": "middle", "color": "#000"},
          "encoding": {
            "x": {"datum": 5.11, "type": "quantitative", "scale": {"domain": [15, 65], "nice": false, "zero": false}},
            "y": {"datum": 4.013, "type": "quantitative", "scale": {"domain": [3.0, 4.0], "nice": false, "zero": false}},
            "text": {"field": "panel"}
          }
        }
      ]
    }
  ],
  "config": {
    "view": {"stroke": null},
    "axis": {
      "grid": false,
      "labelFont": "Liberation Sans", "titleFont": "Liberation Sans",
      "labelFontWeight": "bold", "titleFontWeight": "bold",
      "labelColor": "#000000", "titleColor": "#000000",
      "domainColor": "#000000", "tickColor": "#000000"
    }
  }
}
